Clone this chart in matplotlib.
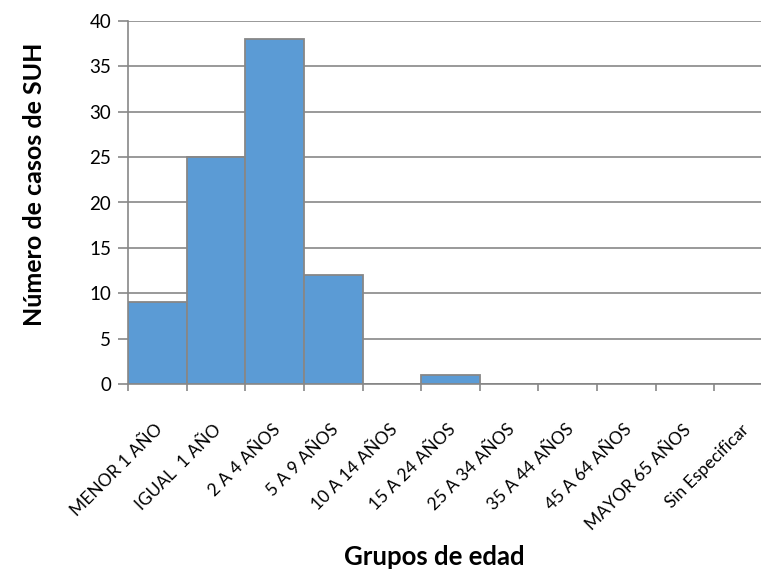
import matplotlib.pyplot as plt
import matplotlib.transforms as mtransforms
import numpy as np

plt.rcParams['font.family'] = ['Lato', 'DejaVu Sans']

# datos
grupos = ["MENOR 1 AÑO", "IGUAL  1 AÑO", "2 A 4 AÑOS", "5 A 9 AÑOS", "10 A 14 AÑOS",
          "15 A 24 AÑOS", "25 A 34 AÑOS", "35 A 44 AÑOS", "45 A 64 AÑOS",
          "MAYOR 65 AÑOS", "Sin Especificar"]
casos = [9, 25, 38, 12, 0, 1, 0, 0, 0, 0, 0]

gris = "#878787"

fig = plt.figure(figsize=(7.61, 5.69), dpi=100)
ax = fig.add_axes([128 / 761, 185 / 569, 645 / 761, 363 / 569])

x = np.arange(len(grupos))
ax.bar(x, casos, width=1.0, color="#5B9BD5", edgecolor=gris, linewidth=1.3, zorder=3)

ax.set_xlim(-0.5, len(grupos) - 0.5)
ax.set_ylim(0, 40)
ax.set_yticks(range(0, 41, 5))
ax.yaxis.grid(True, color=gris, linewidth=1.2, zorder=0)

for s in ["top", "right"]:
    ax.spines[s].set_visible(False)
ax.spines["left"].set_color(gris)
ax.spines["bottom"].set_color(gris)
ax.spines["left"].set_linewidth(1.2)
ax.spines["bottom"].set_linewidth(1.2)

ax.tick_params(axis="y", length=7, width=1.2, color=gris, pad=5, labelsize=13.5)

# marcas en los bordes de cada categoria
ax.set_xticks(np.arange(-0.5, len(grupos), 1.0), minor=True)
ax.tick_params(axis="x", which="minor", length=5, width=1.2, color=gris)
ax.set_xticks(x)
ax.set_xticklabels(grupos, rotation=45, ha="right", va="center", rotation_mode="anchor")
ax.tick_params(axis="x", which="major", length=0, pad=31, labelsize=12.5)
desplazamiento = mtransforms.ScaledTranslation(3 / 100, 0, fig.dpi_scale_trans)
for lab in ax.get_xticklabels():
    lab.set_transform(lab.get_transform() + desplazamiento)

fig.text(35 / 761, 1 - 184 / 569, "Número de casos de SUH", fontsize=18, fontweight="bold",
         rotation=90, ha="center", va="center")
fig.text(434 / 761, 1 - 557 / 569, "Grupos de edad", fontsize=18.5, fontweight="bold",
         ha="center", va="center")

fig.savefig("out.png", dpi=100)
